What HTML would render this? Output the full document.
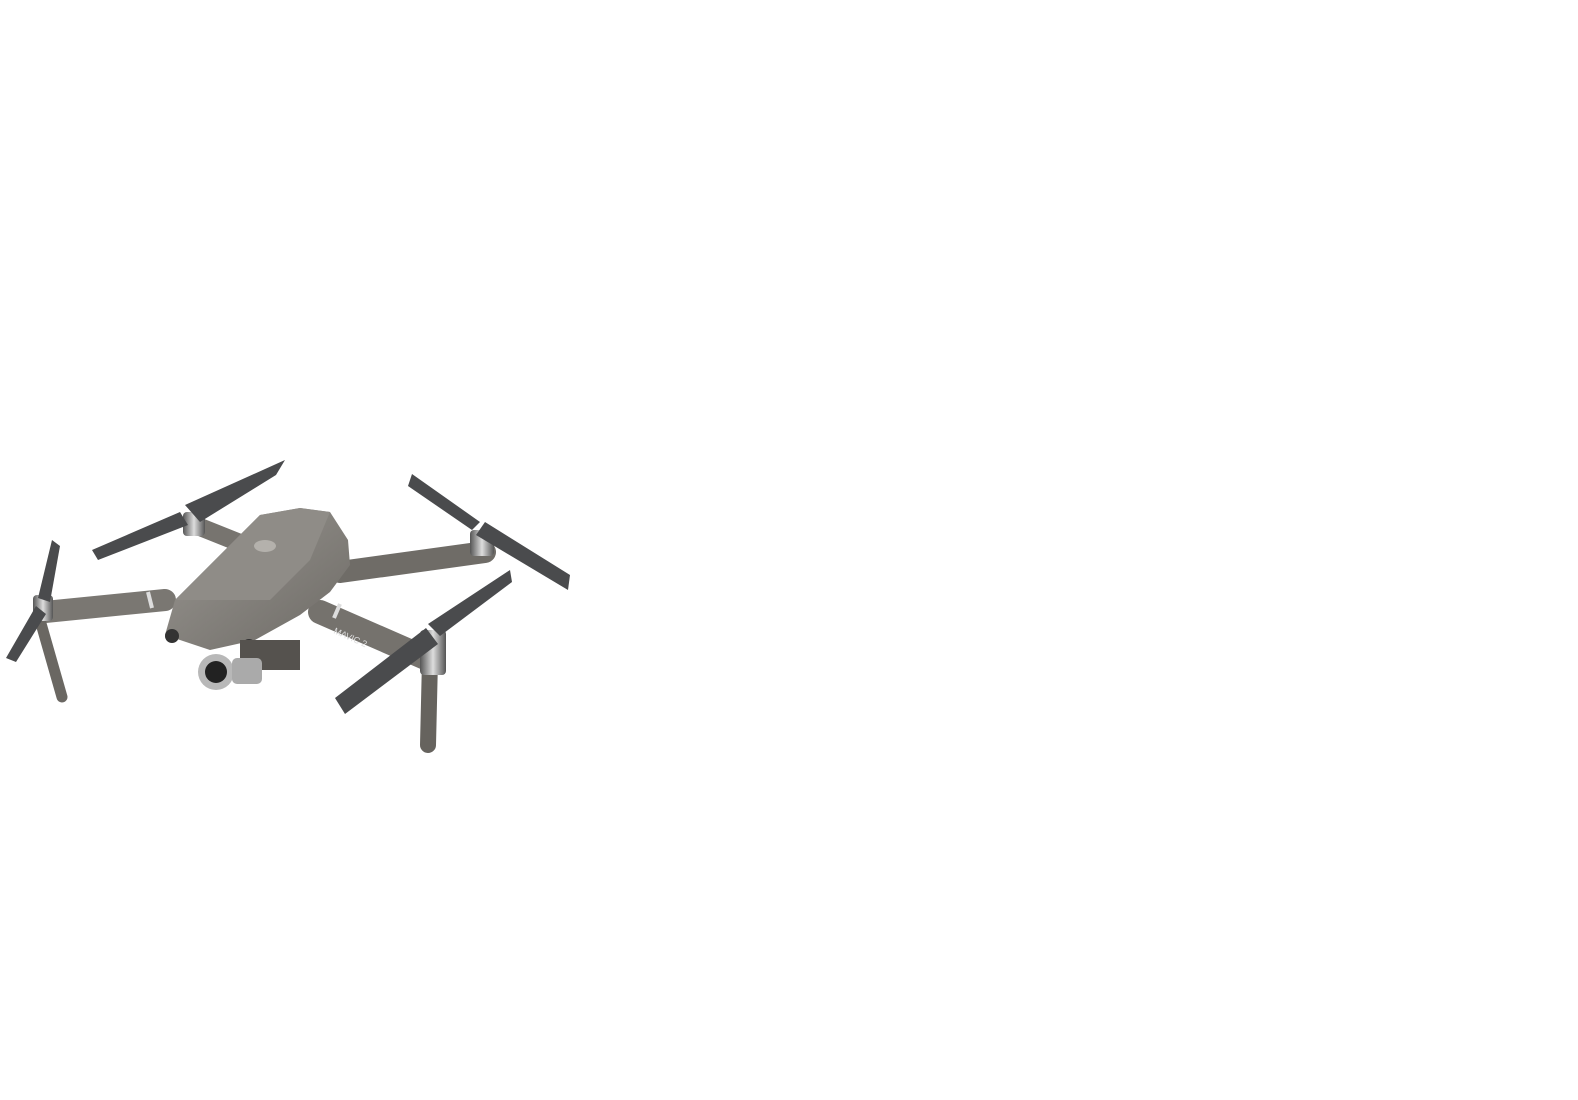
<!DOCTYPE html>
<html><head><style>html,body{margin:0;padding:0;background:#fff;width:1578px;height:1100px;overflow:hidden}</style></head>
<body>
<svg width="1578" height="1100" viewBox="0 0 1578 1100" xmlns="http://www.w3.org/2000/svg">
<defs>
<linearGradient id="bd" x1="0" y1="0" x2="1" y2="1"><stop offset="0" stop-color="#9a9792"/><stop offset="1" stop-color="#6e6b66"/></linearGradient>
<linearGradient id="mt" x1="0" y1="0" x2="1" y2="0"><stop offset="0" stop-color="#555"/><stop offset="0.5" stop-color="#ddd"/><stop offset="1" stop-color="#555"/></linearGradient>
</defs>
<g stroke-linecap="round">
<line x1="245" y1="545" x2="195" y2="525" stroke="#77746f" stroke-width="18"/>
<line x1="340" y1="572" x2="485" y2="552" stroke="#6f6c67" stroke-width="22"/>
<line x1="165" y1="600" x2="45" y2="612" stroke="#7a7772" stroke-width="22"/>
<line x1="40" y1="620" x2="62" y2="697" stroke="#6a6762" stroke-width="11"/>
<line x1="320" y1="612" x2="430" y2="660" stroke="#75726d" stroke-width="24"/>
<line x1="430" y1="660" x2="428" y2="745" stroke="#66635e" stroke-width="16"/>
</g>
<line x1="148" y1="592" x2="152" y2="608" stroke="#ddd" stroke-width="4"/>
<line x1="340" y1="604" x2="334" y2="618" stroke="#ddd" stroke-width="4"/>
<text x="333" y="633" font-family="Liberation Sans, sans-serif" font-size="9" fill="#ddd" transform="rotate(24 333 633)">MAVIC 2</text>
<rect x="183" y="512" width="22" height="24" rx="4" fill="url(#mt)"/>
<rect x="470" y="530" width="24" height="26" rx="4" fill="url(#mt)"/>
<rect x="420" y="630" width="26" height="45" rx="4" fill="url(#mt)"/>
<rect x="33" y="595" width="20" height="26" rx="4" fill="url(#mt)"/>
<g fill="#4a4b4d">
<polygon points="185,505 285,460 276,475 200,522"/>
<polygon points="180,512 92,550 98,560 188,525"/>
<polygon points="480,522 412,474 408,486 472,530"/>
<polygon points="485,522 570,575 568,590 476,535"/>
<polygon points="428,624 510,570 512,582 440,636"/>
<polygon points="426,628 335,698 345,714 438,644"/>
<polygon points="38,598 52,540 60,546 50,602"/>
<polygon points="36,606 6,658 16,662 46,614"/>
</g>
<polygon points="165,635 175,600 215,560 260,515 300,508 330,512 348,540 350,565 330,592 300,615 255,640 210,650" fill="url(#bd)"/>
<polygon points="175,600 215,560 260,515 300,508 330,512 310,560 270,600" fill="#8f8c87"/>
<ellipse cx="265" cy="546" rx="11" ry="6" fill="#b4b1ac"/>
<circle cx="172" cy="636" r="7" fill="#333"/>
<circle cx="249" cy="646" r="7" fill="#333"/>
<rect x="240" y="640" width="60" height="30" fill="#55524e"/>
<circle cx="216" cy="672" r="18" fill="#b8b8b8"/>
<circle cx="216" cy="672" r="11" fill="#222"/>
<rect x="232" y="658" width="30" height="26" rx="5" fill="#aaa"/>
</svg>
</body></html>
